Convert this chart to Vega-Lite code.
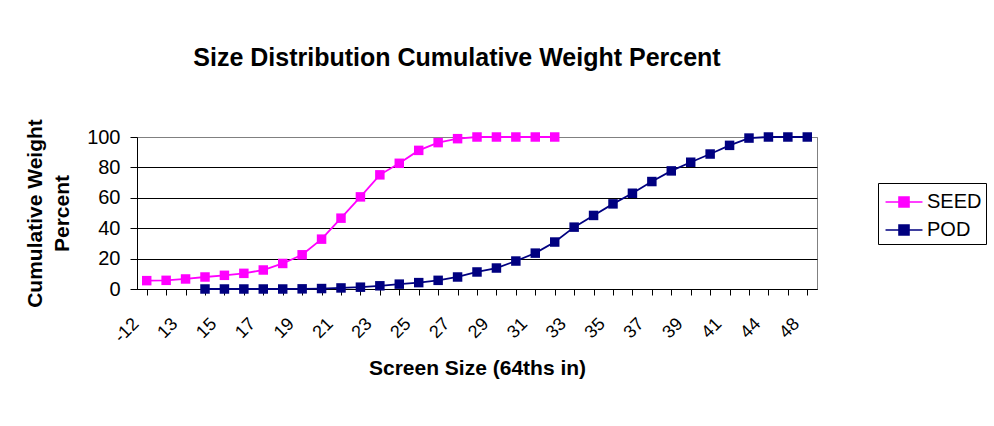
{
  "$schema": "https://vega.github.io/schema/vega-lite/v6.json",
  "autosize": "none",
  "width": 680,
  "height": 152,
  "padding": {"left": 137, "top": 137, "right": 177, "bottom": 137},
  "background": "white",
  "title": {"text": "Size Distribution Cumulative Weight Percent", "font": "Liberation Sans", "fontSize": 25, "fontWeight": "bold", "color": "black", "anchor": "middle", "frame": "group", "offset": 48, "dx": -20},
  "config": {
    "view": {"stroke": "#808080", "strokeWidth": 1},
    "font": "Liberation Sans"
  },
  "data": {"values": [
    {"size": "-12", "series": "SEED", "pct": 5.5},
    {"size": "12", "series": "SEED", "pct": 5.7},
    {"size": "13", "series": "SEED", "pct": 6.6},
    {"size": "14", "series": "SEED", "pct": 7.9},
    {"size": "15", "series": "SEED", "pct": 9.0},
    {"size": "16", "series": "SEED", "pct": 10.3},
    {"size": "17", "series": "SEED", "pct": 12.5},
    {"size": "18", "series": "SEED", "pct": 16.8},
    {"size": "19", "series": "SEED", "pct": 22.5},
    {"size": "20", "series": "SEED", "pct": 32.8},
    {"size": "21", "series": "SEED", "pct": 46.6},
    {"size": "22", "series": "SEED", "pct": 60.6},
    {"size": "23", "series": "SEED", "pct": 75.1},
    {"size": "24", "series": "SEED", "pct": 82.7},
    {"size": "25", "series": "SEED", "pct": 91.2},
    {"size": "26", "series": "SEED", "pct": 96.3},
    {"size": "27", "series": "SEED", "pct": 98.9},
    {"size": "28", "series": "SEED", "pct": 100},
    {"size": "29", "series": "SEED", "pct": 100},
    {"size": "30", "series": "SEED", "pct": 100},
    {"size": "31", "series": "SEED", "pct": 100},
    {"size": "32", "series": "SEED", "pct": 100},
    {"size": "14", "series": "POD", "pct": 0},
    {"size": "15", "series": "POD", "pct": 0},
    {"size": "16", "series": "POD", "pct": 0},
    {"size": "17", "series": "POD", "pct": 0},
    {"size": "18", "series": "POD", "pct": 0},
    {"size": "19", "series": "POD", "pct": 0.1},
    {"size": "20", "series": "POD", "pct": 0.3},
    {"size": "21", "series": "POD", "pct": 0.7},
    {"size": "22", "series": "POD", "pct": 1.2},
    {"size": "23", "series": "POD", "pct": 2.1},
    {"size": "24", "series": "POD", "pct": 3.2},
    {"size": "25", "series": "POD", "pct": 4.2},
    {"size": "26", "series": "POD", "pct": 5.7},
    {"size": "27", "series": "POD", "pct": 7.9},
    {"size": "28", "series": "POD", "pct": 11.2},
    {"size": "29", "series": "POD", "pct": 13.8},
    {"size": "30", "series": "POD", "pct": 18.4},
    {"size": "31", "series": "POD", "pct": 23.6},
    {"size": "32", "series": "POD", "pct": 30.9},
    {"size": "33", "series": "POD", "pct": 40.7},
    {"size": "34", "series": "POD", "pct": 48.4},
    {"size": "35", "series": "POD", "pct": 56.0},
    {"size": "36", "series": "POD", "pct": 63.0},
    {"size": "37", "series": "POD", "pct": 70.7},
    {"size": "38", "series": "POD", "pct": 77.7},
    {"size": "39", "series": "POD", "pct": 83.4},
    {"size": "40", "series": "POD", "pct": 88.8},
    {"size": "41", "series": "POD", "pct": 94.5},
    {"size": "42", "series": "POD", "pct": 99.3},
    {"size": "44", "series": "POD", "pct": 100},
    {"size": "46", "series": "POD", "pct": 100},
    {"size": "48", "series": "POD", "pct": 100}
  ]},
  "mark": {"type": "line", "strokeWidth": 1.8, "point": {"filled": true, "shape": "square", "size": 90, "opacity": 1}},
  "encoding": {
    "x": {
      "field": "size", "type": "ordinal",
      "scale": {"domain": ["-12","12","13","14","15","16","17","18","19","20","21","22","23","24","25","26","27","28","29","30","31","32","33","34","35","36","37","38","39","40","41","42","44","46","48"], "paddingInner": 0, "paddingOuter": 0},
      "axis": {
        "title": "Screen Size (64ths in)", "titleFont": "Liberation Sans", "titleFontSize": 21, "titleFontWeight": "bold", "titleColor": "black", "titlePadding": 12,
        "labelFont": "Liberation Sans", "labelFontSize": 18, "labelColor": "black", "labelAngle": -45, "labelAlign": "right", "labelBaseline": "middle",
        "labelExpr": "indexof(['-12','13','15','17','19','21','23','25','27','29','31','33','35','37','39','41','44','48'], datum.label) >= 0 ? datum.label : ''",
        "labelOverlap": false, "labelPadding": 26, "labelOffset": -11, "labelFlush": false,
        "bandPosition": 0, "tickColor": "black", "tickSize": 6, "domainColor": "black", "grid": false
      }
    },
    "y": {
      "field": "pct", "type": "quantitative",
      "scale": {"domain": [0, 100], "nice": false},
      "axis": {
        "title": ["Cumulative Weight", "Percent"], "titleFont": "Liberation Sans", "titleFontSize": 21, "titleFontWeight": "bold", "titleColor": "black", "titlePadding": 14, "titleLineHeight": 27,
        "values": [0, 20, 40, 60, 80, 100],
        "labelFont": "Liberation Sans", "labelFontSize": 20, "labelColor": "black", "labelPadding": 10,
        "tickColor": "black", "tickSize": 7, "domainColor": "black",
        "grid": true, "gridColor": {"condition": {"test": "datum.value == 100", "value": "#808080"}, "value": "black"}, "gridOpacity": 1
      }
    },
    "color": {
      "field": "series", "type": "nominal",
      "scale": {"domain": ["SEED", "POD"], "range": ["#FF00FF", "#000080"]},
      "legend": {
        "title": null, "orient": "none", "legendX": 741, "legendY": 46,
        "labelFont": "Liberation Sans", "labelFontSize": 20, "labelColor": "black", "labelOffset": 8,
        "strokeColor": "black", "padding": 4, "rowPadding": 3, "symbolOffset": 7,
        "symbolType": "M-1.32,0L1.32,0M-0.36,-0.36L0.36,-0.36L0.36,0.36L-0.36,0.36Z",
        "symbolSize": 784, "symbolStrokeWidth": 1.5,
        "encode": {"symbols": {"update": {"fill": {"scale": "color", "field": "value"}, "stroke": {"scale": "color", "field": "value"}, "opacity": {"value": 1}}}}
      }
    }
  }
}
